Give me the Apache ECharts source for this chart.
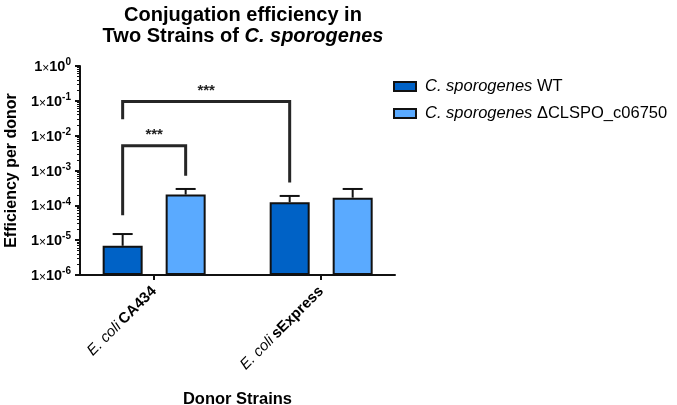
<!DOCTYPE html>
<html><head><meta charset="utf-8">
<script src="https://cdn.jsdelivr.net/npm/echarts@6/dist/echarts.min.js"></script>
<style>html,body{margin:0;padding:0;background:#fff}#c{width:677px;height:405px}</style>
</head><body><div id="c"></div>
<script>
// ---- data ----
const categories = ['CA434', 'sExpress'];
const seriesNames = ['C. sporogenes WT', 'C. sporogenes ΔCLSPO_c06750'];
const wtMean = [6.9e-6, 1.23e-4];
const wtUpper = [1.5e-5, 1.86e-4];
const mutMean = [2.04e-4, 1.66e-4];
const mutUpper = [2.95e-4, 2.95e-4];
const yTickExponents = [-6, -5, -4, -3, -2, -1, 0];
// significance brackets: [fromGroup, fromSeries, toGroup, toSeries, top, leftEnd, rightEnd]
const bracketData = [
  [0, 0, 1, 0, 0.095, 0.0295, 4.5e-4],
  [0, 0, 0, 1, 5.1e-3, 5.2e-5, 7.1e-4]
];
const bracketLabels = ['***', '***'];

// ---- style ----
const FONT = 'Liberation Sans, Arial, sans-serif';
const BAR_W = 40, BAR_GAP = 23;
const OFFSET = (BAR_W + BAR_GAP) / 2;
const CAP = 10;
const INK = '#111';
const colors = ['#0062C6', '#5AAAFF'];

const majorTicks = yTickExponents.map(e => Math.pow(10, e));
const minorTicks = [];
for (let i = 0; i < yTickExponents.length - 1; i++) {
  for (let k = 2; k <= 9; k++) minorTicks.push(k * Math.pow(10, yTickExponents[i]));
}

function errItem(sign) {
  return function (params, api) {
    const x = api.value(0), m = api.value(1), u = api.value(2);
    const p0 = api.coord([x, m]), p1 = api.coord([x, u]);
    const cx = p0[0] + sign * OFFSET;
    const st = { stroke: INK, lineWidth: 2 };
    return { type: 'group', children: [
      { type: 'line', shape: { x1: cx, y1: p0[1], x2: cx, y2: p1[1] }, style: st },
      { type: 'line', shape: { x1: cx - CAP, y1: p1[1], x2: cx + CAP, y2: p1[1] }, style: st }
    ]};
  };
}
function bracketItem(params, api) {
  const fg = api.value(0), fs = api.value(1), tg = api.value(2), ts = api.value(3);
  const top = api.value(4), le = api.value(5), re = api.value(6);
  const pl = api.coord([fg, top]), pr = api.coord([tg, top]);
  const xl = pl[0] + (fs === 0 ? -1 : 1) * OFFSET;
  const xr = pr[0] + (ts === 0 ? -1 : 1) * OFFSET;
  const yt = pl[1];
  const yl = api.coord([fg, le])[1], yr = api.coord([tg, re])[1];
  return { type: 'group', children: [
    { type: 'polyline', shape: { points: [[xl, yl], [xl, yt], [xr, yt], [xr, yr]] },
      style: { stroke: '#262626', lineWidth: 3, fill: null } },
    { type: 'text', x: (xl + xr) / 2, y: yt - 3,
      style: { text: bracketLabels[params.dataIndex], align: 'center', verticalAlign: 'bottom',
               font: 'bold 15px ' + FONT, fill: '#222' } }
  ]};
}

const chart = echarts.init(document.getElementById('c'), null, { renderer: 'canvas' });
chart.setOption({
  animation: false,
  backgroundColor: '#fff',
  title: {
    text: '{b|Conjugation efficiency in}\n{b|Two Strains of }{bi|C. sporogenes}',
    left: 238, top: 0, textAlign: 'center',
    textStyle: {
      rich: {
        b: { fontFamily: FONT, fontWeight: 'bold', fontSize: 20, lineHeight: 21, color: '#000' },
        bi: { fontFamily: FONT, fontWeight: 'bold', fontStyle: 'italic', fontSize: 20, lineHeight: 21, color: '#000' }
      }
    }
  },
  legend: {
    data: seriesNames, orient: 'vertical', left: 388, top: 73,
    itemWidth: 22, itemHeight: 9, itemGap: 10, icon: 'rect',
    formatter: n => '{i|C. sporogenes}{n| ' + n.replace('C. sporogenes ', '') + '}',
    textStyle: {
      padding: [0, 0, 0, 4],
      rich: {
        i: { fontFamily: FONT, fontStyle: 'italic', fontSize: 16.5, lineHeight: 18, color: '#000' },
        n: { fontFamily: FONT, fontSize: 16.5, lineHeight: 18, color: '#000' }
      }
    }
  },
  grid: { left: 80, right: 282, top: 66, bottom: 130, outerBoundsMode: 'none', containLabel: false },
  xAxis: {
    type: 'value', min: -0.444, max: 1.442,
    axisLine: { onZero: false, lineStyle: { color: INK, width: 2 } },
    axisTick: { customValues: [0, 1], length: 5, lineStyle: { color: INK, width: 2 } },
    splitLine: { show: false },
    axisLabel: {
      customValues: [0, 1], rotate: 45, margin: 14,
      formatter: v => '{i|E. coli} {b|' + categories[Math.round(v)] + '}',
      rich: {
        i: { fontFamily: FONT, fontStyle: 'italic', fontSize: 15, color: '#000' },
        b: { fontFamily: FONT, fontWeight: 'bold', fontSize: 15, color: '#000' }
      }
    },
    name: 'Donor Strains', nameLocation: 'middle', nameGap: 116,
    nameTextStyle: { fontFamily: FONT, fontWeight: 'bold', fontSize: 16.5, color: '#000' }
  },
  yAxis: [{
    type: 'log', logBase: 10, min: 1e-6, max: 1, startValue: 1e-6,
    axisLine: { show: true, onZero: false, lineStyle: { color: INK, width: 2 } },
    axisTick: { show: true, customValues: majorTicks, length: 5, lineStyle: { color: INK, width: 2 } },
    splitLine: { show: false },
    axisLabel: {
      customValues: majorTicks, margin: 9,
      formatter: v => '{a|1}{x|×}{a|10}{s|' + Math.round(Math.log10(v)) + '}',
      rich: {
        a: { fontFamily: FONT, fontWeight: 'bold', fontSize: 14.5, color: '#000', lineHeight: 17, verticalAlign: 'bottom' },
        x: { fontFamily: FONT, fontSize: 12, color: '#000', lineHeight: 17, verticalAlign: 'bottom' },
        s: { fontFamily: FONT, fontWeight: 'bold', fontSize: 10, color: '#000', lineHeight: 10, verticalAlign: 'top' }
      }
    },
    name: 'Efficiency per donor', nameLocation: 'middle', nameGap: 60,
    nameTextStyle: { fontFamily: FONT, fontWeight: 'bold', fontSize: 16, color: '#000' }
  }, {
    type: 'log', logBase: 10, min: 1e-6, max: 1, position: 'left',
    axisLine: { show: false, onZero: false },
    axisTick: { show: true, customValues: minorTicks, length: 3, lineStyle: { color: INK, width: 1 } },
    axisLabel: { show: false },
    splitLine: { show: false }
  }],
  series: [
    { type: 'bar', name: seriesNames[0], data: categories.map((c, i) => [i, wtMean[i]]),
      barWidth: BAR_W, barGap: (BAR_GAP / BAR_W * 100) + '%',
      itemStyle: { color: colors[0], borderColor: INK, borderWidth: 2 } },
    { type: 'bar', name: seriesNames[1], data: categories.map((c, i) => [i, mutMean[i]]),
      barWidth: BAR_W, barGap: (BAR_GAP / BAR_W * 100) + '%',
      itemStyle: { color: colors[1], borderColor: INK, borderWidth: 2 } },
    { type: 'custom', renderItem: errItem(-1), data: categories.map((c, i) => [i, wtMean[i], wtUpper[i]]),
      encode: { x: 0, y: [1, 2] }, z: 1 },
    { type: 'custom', renderItem: errItem(1), data: categories.map((c, i) => [i, mutMean[i], mutUpper[i]]),
      encode: { x: 0, y: [1, 2] }, z: 1 },
    { type: 'custom', renderItem: bracketItem, data: bracketData,
      encode: { x: [0, 2], y: [4, 5, 6] }, z: 3 }
  ]
});
</script></body></html>
